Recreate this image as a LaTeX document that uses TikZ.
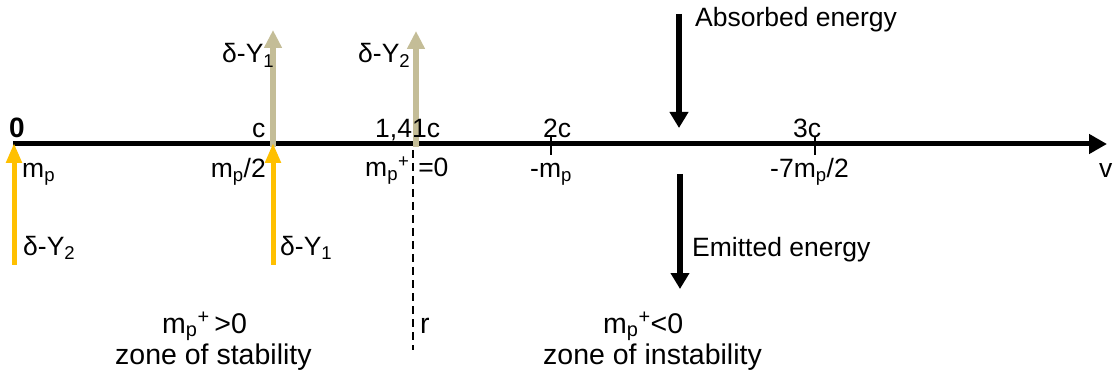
\documentclass[tikz,border=0pt]{standalone}
\usepackage{fontspec}
\setmainfont{Liberation Sans}
\usetikzlibrary{arrows.meta}
\definecolor{ayellow}{HTML}{FFC000}
\definecolor{atan}{HTML}{C4BD97}
\newcommand\mpsub{m\textsubscript{p}}
\newcommand\mpplus{m\textsubscript{p}\textsuperscript{+}}
\tikzset{
  lbl/.style={inner sep=0pt, anchor=base west, font=\fontsize{26.5}{31}\selectfont},
  lble/.style={lbl, anchor=base east},
  zone/.style={lbl, font=\fontsize{28.5}{33}\selectfont},
  axisline/.style={line width=5pt, -{Triangle[width=19pt,length=18pt]}},
  yarrow/.style={draw=ayellow, line width=5pt, -{Triangle[width=15pt,length=20pt]}},
  tarrow/.style={draw=atan, line width=6pt, -{Triangle[width=17pt,length=18pt]}},
  earrow/.style={line width=6.5pt, -{Triangle[width=18pt,length=16pt]}},
  tickmark/.style={line width=1.5pt},
  divline/.style={line width=1.5pt, dash pattern=on 8pt off 5pt},
}
\begin{document}
\begin{tikzpicture}[x=1pt,y=-1pt]
\useasboundingbox (0,0) rectangle (1114,382);
% axis
\coordinate (ax0) at (13,144);
\coordinate (axend) at (1107,144);
\draw[axisline] (ax0) -- (axend);
% ticks
\coordinate (t2a) at (551,137); \coordinate (t2b) at (551,155);
\coordinate (t3a) at (815,137); \coordinate (t3b) at (815,155);
\draw[tickmark] (t2a) -- (t2b);
\draw[tickmark] (t3a) -- (t3b);
% dashed divider
\coordinate (da) at (413,150); \coordinate (db) at (413,350);
\draw[divline] (da) -- (db);
% tan arrows
\coordinate (ta1) at (273,147); \coordinate (tb1) at (273,30);
\coordinate (ta2) at (416,147); \coordinate (tb2) at (416,31);
\draw[tarrow] (ta1) -- (tb1);
\draw[tarrow] (ta2) -- (tb2);
% yellow arrows
\coordinate (ya1) at (14,265); \coordinate (yb1) at (14,143);
\coordinate (ya2) at (273,265); \coordinate (yb2) at (273,143);
\draw[yarrow] (ya1) -- (yb1);
\draw[yarrow] (ya2) -- (yb2);
% energy arrows
\coordinate (ea1) at (679,14); \coordinate (eb1) at (679,128);
\coordinate (ea2) at (680,174); \coordinate (eb2) at (680,289);
\draw[earrow] (ea1) -- (eb1);
\draw[earrow] (ea2) -- (eb2);
% labels above axis
\node[lbl, font=\fontsize{28}{32}\selectfont\bfseries] (l0) at (9,138) {0};
\node[lbl] (lc) at (252,138) {c};
\node[lbl] (l141) at (375,138) {1,41c};
\node[lbl] (l2c) at (543,138) {2c};
\node[lbl] (l3c) at (793,138) {3c};
% labels below axis
\node[lbl] (m0) at (22,178) {\mpsub};
\node[lble] (m1) at (266,178) {\mpsub/2};
\node[lbl] (m141) at (365,177) {\mpplus\,\,=0};
\node[lbl] (m2) at (530,178) {-\mpsub};
\node[lbl] (m3) at (770,178) {-7\mpsub/2};
\node[lbl] (v) at (1099,178) {v};
% delta labels
\node[lbl] (dy2a) at (23,255) {δ-Y\textsubscript{2}};
\node[lbl] (dy1a) at (280,255) {δ-Y\textsubscript{1}};
\node[lbl] (dy1b) at (222,63) {δ-Y\textsubscript{1}};
\node[lbl] (dy2b) at (358,63) {δ-Y\textsubscript{2}};
% energy labels
\node[lbl] (abs) at (695,27) {Absorbed energy};
\node[lbl] (emi) at (692,257) {Emitted energy};
% zones
\node[zone] (zs1) at (162,333) {\mpplus\,>0};
\node[zone] (zs2) at (115,364) {zone of stability};
\node[zone] (r) at (420,333) {r};
\node[zone] (zi1) at (603,333) {\mpplus<0};
\node[zone] (zi2) at (543,364) {zone of instability};
\end{tikzpicture}
\end{document}
